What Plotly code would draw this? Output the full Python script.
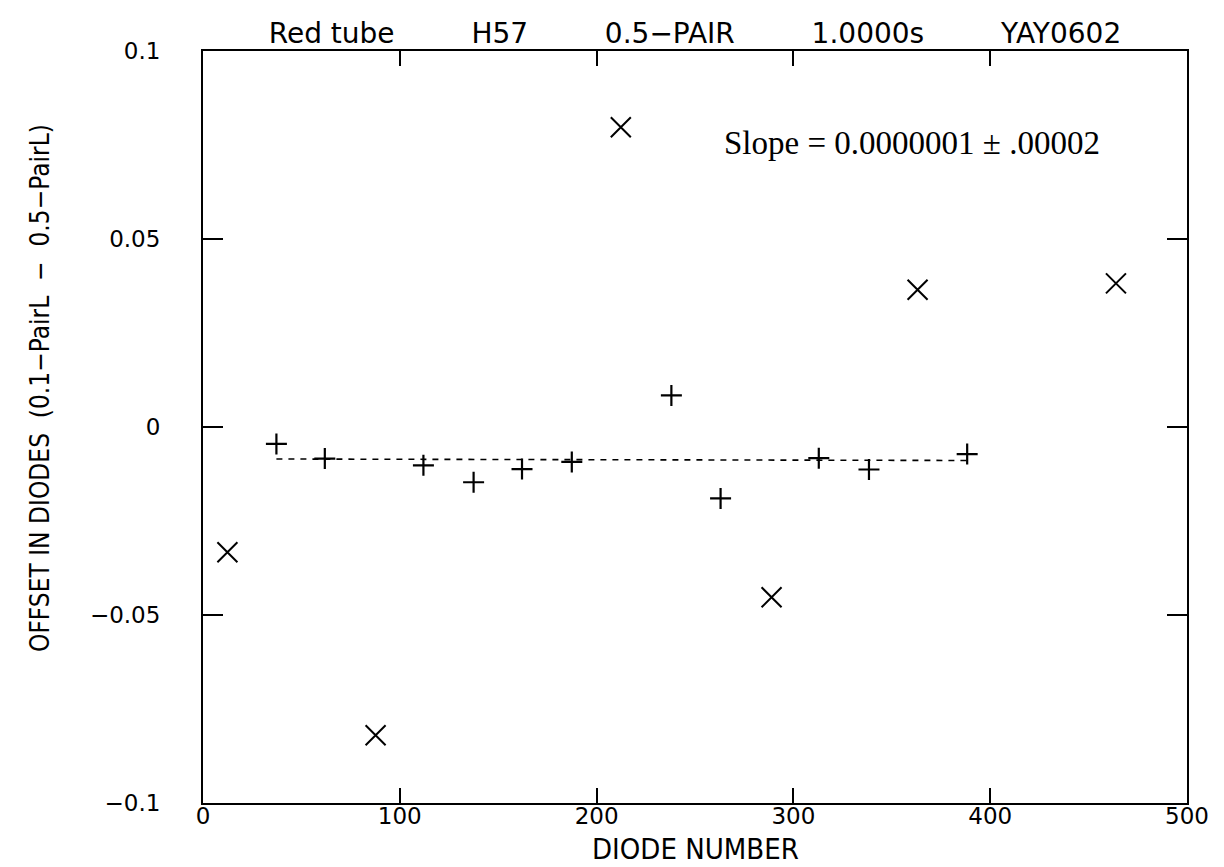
import numpy as np
import plotly.graph_objects as go

# ---- data ----
diode_plus = [37.3, 61.9, 112.0, 137.5, 162.1, 187.4, 238.0, 263.0, 312.9, 338.4, 388.3]
offset_plus = [-0.0045, -0.0084, -0.0102, -0.0147, -0.0112, -0.0093, 0.0084, -0.0190, -0.0083, -0.0113, -0.0072]

diode_x = [12.4, 87.7, 212.3, 288.9, 363.1, 413.1, 439.6, 463.9]
offset_x = [-0.0333, -0.0820, 0.0797, -0.0453, 0.0365, -0.1005, -0.1005, 0.0382]

x_ticks = [0, 100, 200, 300, 400, 500]
y_ticks = [-0.1, -0.05, 0, 0.05, 0.1]
y_ticktext = ["\u22120.1", "\u22120.05", "0", "0.05", "0.1"]

GAP = "\u00a0" * 8 + "\u2009"
title_text = "Red tube" + GAP + "H57" + GAP + "0.5\u2212PAIR" + GAP + "1.0000s" + GAP + "YAY0602"
slope_text = "Slope = 0.0000001 \u00b1 .00002"
xlabel = "DIODE NUMBER"
ylabel = "OFFSET IN DIODES\u00a0\u00a0(0.1\u2212PairL\u00a0\u00a0\u2212\u00a0\u00a00.5\u2212PairL)"

# linear fit of the '+' points
coef = np.polyfit(diode_plus, offset_plus, 1)
fit_x = np.array([min(diode_plus), max(diode_plus)])
fit_y = np.polyval(coef, fit_x)

W, H = 1224, 867
ML, MR, MT, MB = 203, 37, 51, 64
PW, PH = W - ML - MR, H - MT - MB

def px_x(p):
    return (p - ML) / PW

def px_y(p):
    return (H - MB - p) / PH

fig = go.Figure()
fig.add_trace(go.Scatter(x=fit_x, y=fit_y, mode="lines",
                         line=dict(color="black", width=1.6, dash="6px,6px"),
                         showlegend=False, hoverinfo="skip"))
fig.add_trace(go.Scatter(x=diode_plus, y=offset_plus, mode="markers",
                         marker=dict(symbol="cross-thin", size=15, color="black",
                                     line=dict(color="black", width=2.2)),
                         showlegend=False, cliponaxis=False))
fig.add_trace(go.Scatter(x=diode_x, y=offset_x, mode="markers",
                         marker=dict(symbol="x-thin", size=20, color="black",
                                     line=dict(color="black", width=2)),
                         showlegend=False, cliponaxis=False))

axis_common = dict(showline=True, linecolor="black", linewidth=2, mirror="ticks",
                   ticks="inside", tickcolor="black", tickwidth=2,
                   showgrid=False, zeroline=False)

fig.update_xaxes(range=[0, 500], tickvals=x_ticks, ticklen=15,
                 tickfont=dict(family="DejaVu Sans", size=23, color="black"),
                 ticklabelstandoff=-9, **axis_common)
fig.update_yaxes(range=[-0.1, 0.1], tickvals=y_ticks, ticktext=y_ticktext, ticklen=20,
                 tickfont=dict(family="DejaVu Sans", size=23, color="black"),
                 ticklabelstandoff=36, **axis_common)

fig.update_layout(
    width=W, height=H,
    margin=dict(l=ML, r=MR, t=MT, b=MB),
    paper_bgcolor="white", plot_bgcolor="white",
    title=dict(text=title_text, x=(ML + PW / 2) / W, xanchor="center",
               xref="container", y=1 - 33 / H, yanchor="middle", yref="container",
               font=dict(family="DejaVu Sans", size=28, color="black")),
    annotations=[
        dict(text=slope_text, x=px_x(722), y=px_y(143), xref="paper", yref="paper",
             xanchor="left", yanchor="middle", showarrow=False,
             font=dict(family="Liberation Serif", size=33, color="black")),
        dict(text=xlabel, x=px_x(695), y=px_y(849), xref="paper", yref="paper",
             xanchor="center", yanchor="middle", showarrow=False,
             font=dict(family="Liberation Sans Narrow, DejaVu Sans Condensed, Liberation Sans", size=29, color="black")),
        dict(text=ylabel, x=px_x(40), y=px_y(388), xref="paper", yref="paper",
             xanchor="center", yanchor="middle", showarrow=False, textangle=-90,
             font=dict(family="Liberation Sans Narrow, DejaVu Sans Condensed, Liberation Sans", size=26, color="black")),
    ],
)

fig.write_html("out.html")
